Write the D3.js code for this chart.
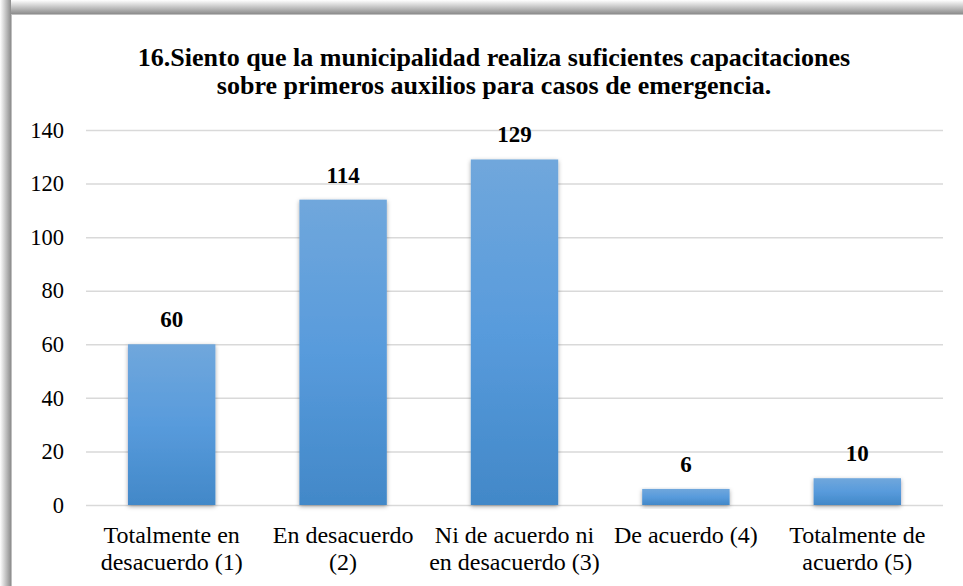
<!DOCTYPE html>
<html>
<head>
<meta charset="utf-8">
<script src="https://cdn.jsdelivr.net/npm/d3@7"></script>
<style>
  body { margin: 0; background: #fff; font-family: 'Liberation Serif', serif; }
</style>
</head>
<body>
<svg class="chart"></svg>
<script>
var categories = [
  ["Totalmente en", "desacuerdo (1)"],
  ["En desacuerdo", "(2)"],
  ["Ni de acuerdo ni", "en desacuerdo (3)"],
  ["De acuerdo (4)"],
  ["Totalmente de", "acuerdo (5)"]
];
var values = [60, 114, 129, 6, 10];
var yTicks = [0, 20, 40, 60, 80, 100, 120, 140];
var titleLines = [
  "16.Siento que la municipalidad realiza suficientes capacitaciones",
  "sobre primeros auxilios para casos de emergencia."
];

var FONT = "'Liberation Serif', serif";
var W = 963, H = 586;
var margin = {top: 130, right: 20, bottom: 80, left: 86},
    width = 943 - margin.left,
    height = 505 - margin.top;

var svg = d3.select(".chart")
    .attr("width", W)
    .attr("height", H)
    .attr("font-family", FONT);

var defs = svg.append("defs");

// frame shadow on top and left
var gTop = defs.append("linearGradient").attr("id", "shTop")
    .attr("x1", 0).attr("y1", 0).attr("x2", 0).attr("y2", 1);
gTop.append("stop").attr("offset", "0%").attr("stop-color", "#ffffff");
gTop.append("stop").attr("offset", "100%").attr("stop-color", "#8c8c8c");
var gLeft = defs.append("linearGradient").attr("id", "shLeft")
    .attr("x1", 0).attr("y1", 0).attr("x2", 1).attr("y2", 0);
gLeft.append("stop").attr("offset", "0%").attr("stop-color", "#ffffff");
gLeft.append("stop").attr("offset", "100%").attr("stop-color", "#8c8c8c");

var bar = defs.append("linearGradient").attr("id", "barFill")
    .attr("x1", 0).attr("y1", 0).attr("x2", 0).attr("y2", 1);
bar.append("stop").attr("offset", "0%").attr("stop-color", "#70a7dc");
bar.append("stop").attr("offset", "50%").attr("stop-color", "#589bdc");
bar.append("stop").attr("offset", "100%").attr("stop-color", "#4288c8");

var shadow = defs.append("filter").attr("id", "barShadow")
    .attr("x", "-20%").attr("y", "-10%").attr("width", "140%").attr("height", "130%");
shadow.append("feDropShadow")
    .attr("dx", 0).attr("dy", 1.5)
    .attr("stdDeviation", 2)
    .attr("flood-color", "#000")
    .attr("flood-opacity", 0.35);

svg.append("rect").attr("x", 0).attr("y", 0).attr("width", W).attr("height", 14)
    .attr("fill", "url(#shTop)");
svg.append("rect").attr("x", 0).attr("y", 0).attr("width", 11).attr("height", H)
    .attr("fill", "url(#shLeft)");
svg.append("rect").attr("x", 11.5).attr("y", 14.5).attr("width", W).attr("height", H)
    .attr("fill", "#fff").attr("stroke", "#bfbfbf").attr("stroke-width", 1);

svg.append("text")
    .attr("text-anchor", "middle")
    .attr("font-weight", "bold")
    .attr("font-size", 26)
    .attr("font-family", FONT)
    .selectAll("tspan")
    .data(titleLines)
    .enter().append("tspan")
    .attr("x", 494)
    .attr("y", function(d, i) { return 66 + i * 28; })
    .text(function(d) { return d; });

var x = d3.scaleBand()
    .domain(d3.range(values.length))
    .range([0, width])
    .paddingInner(0.49)
    .paddingOuter(0.245);

var y = d3.scaleLinear()
    .domain([0, 140])
    .range([height, 0]);

var chart = svg.append("g")
    .attr("transform", "translate(" + margin.left + "," + margin.top + ")");

chart.append("g")
    .attr("class", "grid")
    .call(d3.axisLeft(y).tickValues(yTicks).tickSize(-width).tickFormat(""))
    .call(function(g) { g.select(".domain").remove(); })
    .selectAll("line")
    .attr("stroke", "#d9d9d9")
    .attr("stroke-width", 1.5);

var yAxis = chart.append("g")
    .call(d3.axisLeft(y).tickValues(yTicks).tickSize(0).tickPadding(22))
    .attr("font-family", FONT);
yAxis.select(".domain").remove();
yAxis.selectAll("text")
    .attr("font-size", 22.5)
    .attr("fill", "#000");

chart.selectAll(".bar")
    .data(values)
    .enter().append("rect")
    .attr("class", "bar")
    .attr("x", function(d, i) { return x(i); })
    .attr("y", function(d) { return y(d); })
    .attr("width", x.bandwidth())
    .attr("height", function(d) { return height - y(d); })
    .attr("fill", "url(#barFill)")
    .attr("filter", "url(#barShadow)");

chart.selectAll(".label")
    .data(values)
    .enter().append("text")
    .attr("class", "label")
    .attr("x", function(d, i) { return x(i) + x.bandwidth() / 2; })
    .attr("y", function(d) { return y(d) - 17; })
    .attr("text-anchor", "middle")
    .attr("font-weight", "bold")
    .attr("font-size", 23)
    .attr("font-family", FONT)
    .text(function(d) { return d; });

chart.selectAll(".cat")
    .data(categories)
    .enter().append("text")
    .attr("class", "cat")
    .attr("text-anchor", "middle")
    .attr("font-size", 24)
    .attr("font-family", FONT)
    .selectAll("tspan")
    .data(function(d, i) { return d.map(function(s) { return {s: s, i: i}; }); })
    .enter().append("tspan")
    .attr("x", function(d) { return x(d.i) + x.bandwidth() / 2; })
    .attr("y", function(d, j) { return height + 38 + j * 27; })
    .text(function(d) { return d.s; });
</script>
</body>
</html>
